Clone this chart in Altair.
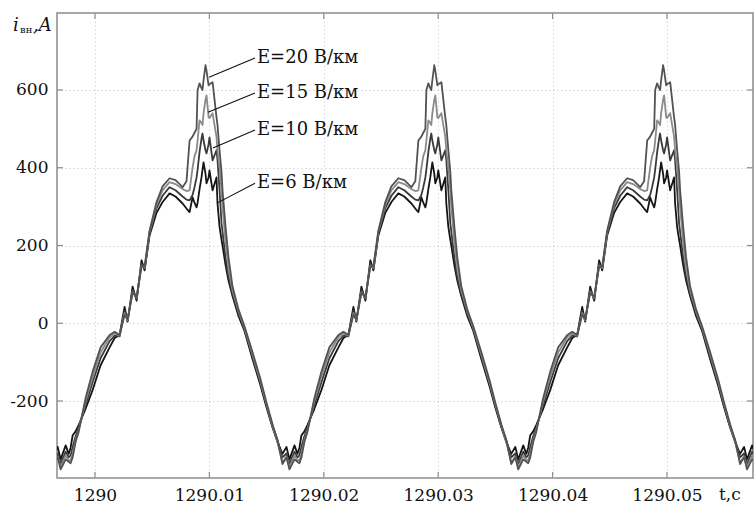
import altair as alt
import pandas as pd

# ---- one period of each waveform, phase in ms from the minimum ----
phase_ms = [0.00, 0.44, 0.70, 0.87, 1.05, 1.31, 1.57, 2.18, 2.79, 3.49, 4.28, 4.72,
            5.15, 5.59, 5.85, 6.29, 6.64, 7.07, 7.34, 7.77, 8.38, 8.91, 9.52, 10.04,
            10.66, 11.00, 11.27, 11.53, 11.70, 11.88, 11.97, 12.14, 12.31, 12.40, 12.49,
            12.66, 12.75, 12.93, 13.01, 13.28, 13.62, 13.71, 13.89, 14.06, 14.15, 14.41,
            14.67, 15.02, 15.55, 16.07, 16.77, 17.47, 17.99, 18.52, 18.95, 19.39, 19.74]

e6 = [-350, -314, -336, -320, -288, -278, -262, -220, -172, -108, -62, -38,
      -30, 42, 4, 94, 58, 162, 136, 226, 284, 312, 334, 326,
      308, 295, 286, 324, 310, 298, 310, 345, 375, 395, 414,
      385, 360, 375, 393, 342, 375, 309, 247, 215, 200, 150,
      110, 70, 18, -20, -92, -160, -216, -268, -305, -336, -318]
e10 = [-362, -330, -345, -340, -318, -290, -270, -210, -152, -90, -46, -32,
       -34, 32, 6, 86, 62, 154, 140, 230, 296, 328, 350, 342,
       326, 318, 316, 330, 350, 375, 395, 440, 475, 488, 470,
       445, 437, 460, 478, 419, 445, 420, 342, 257, 235, 170,
       120, 75, 26, -15, -86, -154, -212, -266, -300, -345, -335]
e15 = [-370, -340, -352, -352, -335, -300, -275, -200, -138, -75, -36, -26,
       -32, 26, 8, 80, 66, 148, 143, 235, 305, 342, 363, 358,
       345, 340, 342, 400, 430, 445, 470, 522, 515, 510, 540,
       575, 586, 530, 528, 540, 480, 445, 400, 342, 300, 210,
       140, 85, 30, -12, -80, -150, -208, -263, -305, -358, -343]
e20 = [-376, -350, -356, -360, -345, -305, -280, -192, -125, -62, -30, -22,
       -30, 22, 10, 78, 68, 146, 146, 238, 312, 352, 373, 368,
       350, 365, 470, 480, 490, 500, 600, 617, 605, 600, 625,
       664, 650, 612, 615, 620, 530, 510, 445, 390, 342, 250,
       170, 95, 35, -8, -74, -144, -204, -260, -300, -362, -345]

cycle_min_t = [1289.977, 1289.997, 1290.017, 1290.037, 1290.057]

series_names = ["E=6 В/км", "E=10 В/км", "E=15 В/км", "E=20 В/км"]
series_vals = [e6, e10, e15, e20]
series_colors = ["#151515", "#3a3a3a", "#8a8a8a", "#525252"]

# labels and pointer lines
label_text = ["E=20 В/км", "E=15 В/км", "E=10 В/км", "E=6 В/км"]
label_t = [1290.01416, 1290.01416, 1290.01416, 1290.01416]
label_v = [682, 592, 497, 360]
ptr_t0 = [1290.00997, 1290.00988, 1290.01031, 1290.01066]
ptr_v0 = [633, 543, 451, 309]
ptr_t1 = [1290.01399, 1290.01399, 1290.01399, 1290.01399]

x_ticks = [1290.0, 1290.01, 1290.02, 1290.03, 1290.04, 1290.05]
y_ticks = [-200, 0, 200, 400, 600]

X_DOMAIN = [1289.99668, 1290.05752]
Y_DOMAIN = [-398, 798]
W, H = 696, 465
FONT = "DejaVu Serif"
FRAME = "#8c8c8c"
GRID = "#c4c4c4"

rows = []
for name, vals in zip(series_names, series_vals):
    for c0 in cycle_min_t:
        for p, v in zip(phase_ms, vals):
            rows.append({"t": c0 + p / 1000.0, "v": v, "s": name})
df = pd.DataFrame(rows)

xs = alt.Scale(domain=X_DOMAIN, nice=False, zero=False)
ys = alt.Scale(domain=Y_DOMAIN, nice=False, zero=False)

x_axis = alt.Axis(
    values=x_ticks, title=None, grid=True, gridDash=[1, 3], gridColor=GRID,
    ticks=False, domain=False, labelFont=FONT, labelFontSize=17, labelColor="#111",
    labelPadding=9, labelExpr="format(datum.value, '.2~f')", labelFlush=False)
y_axis = alt.Axis(
    values=y_ticks, title=None, grid=True, gridDash=[1, 3], gridColor=GRID,
    ticks=False, domain=False, labelFont=FONT, labelFontSize=17, labelColor="#111",
    labelPadding=9, labelExpr="'' + datum.value")

lines = alt.Chart(df).mark_line(strokeWidth=1.8, clip=True, strokeJoin="round").encode(
    x=alt.X("t:Q", scale=xs, axis=x_axis),
    y=alt.Y("v:Q", scale=ys, axis=y_axis),
    color=alt.Color("s:N", scale=alt.Scale(domain=series_names, range=series_colors), legend=None),
    detail="s:N",
)

lab_df = pd.DataFrame({"txt": label_text, "t": label_t, "v": label_v,
                       "t0": ptr_t0, "v0": ptr_v0, "t1": ptr_t1})

pointers = alt.Chart(lab_df).mark_rule(color="#111", strokeWidth=1.1).encode(
    x=alt.X("t0:Q", scale=xs, axis=x_axis), y=alt.Y("v0:Q", scale=ys, axis=y_axis),
    x2="t1:Q", y2="v:Q")

labels = alt.Chart(lab_df).mark_text(font=FONT, fontSize=18, align="left",
                                     baseline="middle", color="#111").encode(
    x=alt.X("t:Q", scale=xs, axis=x_axis), y=alt.Y("v:Q", scale=ys, axis=y_axis), text="txt:N")

xt_df = pd.DataFrame({"t": x_ticks})
yt_df = pd.DataFrame({"v": y_ticks})
bt = alt.Chart(xt_df).mark_rule(color=FRAME, strokeWidth=1.2).encode(
    x=alt.X("t:Q", scale=xs, axis=x_axis), y=alt.value(H), y2=alt.value(H - 6))
tt = alt.Chart(xt_df).mark_rule(color=FRAME, strokeWidth=1.2).encode(
    x=alt.X("t:Q", scale=xs, axis=x_axis), y=alt.value(0), y2=alt.value(6))
lt = alt.Chart(yt_df).mark_rule(color=FRAME, strokeWidth=1.2).encode(
    y=alt.Y("v:Q", scale=ys, axis=y_axis), x=alt.value(0), x2=alt.value(6))
rt = alt.Chart(yt_df).mark_rule(color=FRAME, strokeWidth=1.2).encode(
    y=alt.Y("v:Q", scale=ys, axis=y_axis), x=alt.value(W), x2=alt.value(W - 6))

title_df = pd.DataFrame({"a": [0]})
t_i = alt.Chart(title_df).mark_text(font=FONT, fontSize=18, fontStyle="italic", align="left",
                                    baseline="alphabetic", color="#111", text="i").encode(
    x=alt.value(-44), y=alt.value(18))
t_sub = alt.Chart(title_df).mark_text(font=FONT, fontSize=10, align="left",
                                      baseline="alphabetic", color="#111", text="вн").encode(
    x=alt.value(-37), y=alt.value(20))
t_a = alt.Chart(title_df).mark_text(font=FONT, fontSize=18, fontStyle="italic", align="left",
                                    baseline="alphabetic", color="#111", text=",A").encode(
    x=alt.value(-24), y=alt.value(18))
t_x = alt.Chart(title_df).mark_text(font=FONT, fontSize=17, align="left",
                                    baseline="middle", color="#111", text="t,c").encode(
    x=alt.value(662), y=alt.value(482))

chart = alt.layer(lines, bt, tt, lt, rt, pointers, labels, t_i, t_sub, t_a, t_x).properties(
    width=W, height=H,
    autosize=alt.AutoSizeParams(type="none"),
    padding={"left": 57, "top": 13, "right": 2, "bottom": 28},
    background="white",
).configure_view(stroke=FRAME, strokeWidth=1.5)

chart.save("out.html", embed_options={"renderer": "svg", "actions": False})
